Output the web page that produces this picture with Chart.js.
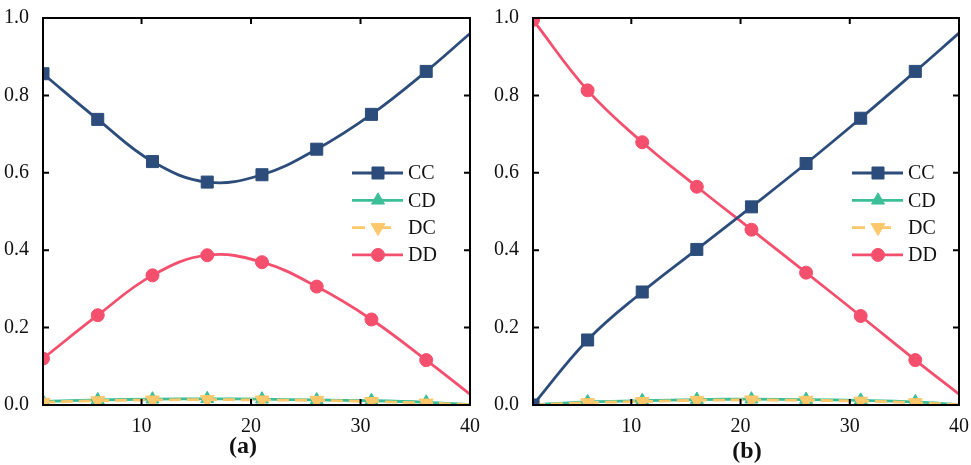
<!DOCTYPE html>
<html><head><meta charset="utf-8">
<script src="https://cdn.jsdelivr.net/npm/chart.js@4.4.1/dist/chart.umd.min.js"></script>
<style>
html,body{margin:0;padding:0;background:#fff;overflow:hidden}
#wrap{position:relative;width:971px;height:465px}
.pane{position:absolute;top:0;height:465px}
</style></head><body>
<div id="wrap">
<div class="pane" style="left:0;width:486px"><canvas id="chartA" width="486" height="465"></canvas></div>
<div class="pane" style="left:486px;width:485px"><canvas id="chartB" width="485" height="465"></canvas></div>
</div>
<script>
// sampled x positions (markers every 5 steps, line runs to 40)
const xValues=[1,6,11,16,21,26,31,36,40];
const xTicks=[10,20,30,40];
const yTicks=[0,0.2,0.4,0.6,0.8,1.0];
const seriesNames=['CC','CD','DC','DD'];

// panel (a)
const ccA=[0.856,0.738,0.629,0.576,0.595,0.661,0.751,0.862,0.960];
const cdA=[0.009,0.013,0.015,0.016,0.015,0.013,0.011,0.007,0.001];
const dcA=[0.007,0.011,0.013,0.014,0.013,0.012,0.009,0.005,0.001];
const ddA=[0.120,0.232,0.335,0.387,0.369,0.306,0.221,0.116,0.028];
// panel (b)
const ccB=[0.000,0.168,0.292,0.402,0.512,0.624,0.741,0.862,0.961];
const cdB=[0.000,0.008,0.011,0.014,0.015,0.014,0.012,0.008,0.001];
const dcB=[0.000,0.006,0.009,0.012,0.013,0.012,0.010,0.006,0.001];
const ddB=[0.995,0.813,0.679,0.564,0.453,0.342,0.230,0.116,0.028];

const COLORS={CC:'#2c4d7b',CD:'#3cbf99',DC:'#fcc86b',DD:'#f4506e'};
const STYLE={CC:{ps:'rect',r:8.5,rot:0,dash:[]},CD:{ps:'triangle',r:7.5,rot:0,dash:[]},DC:{ps:'triangle',r:8,rot:180,dash:[12,6]},DD:{ps:'circle',r:6.5,rot:0,dash:[]}};
const ORDER={CC:0,DD:1,DC:2,CD:3};
const FONT="'Liberation Serif','Times New Roman',serif";

function mkDatasets(vals){
  return seriesNames.map((n,i)=>({
    label:n,data:xValues.map((x,j)=>({x,y:vals[i][j]})),
    borderColor:COLORS[n],backgroundColor:COLORS[n],borderWidth:2.8,borderDash:STYLE[n].dash,
    pointStyle:STYLE[n].ps,pointRotation:STYLE[n].rot,
    pointRadius:ctx=>xValues[ctx.dataIndex]%5===1?STYLE[n].r:0,
    pointBorderWidth:1,tension:0.4,clip:0,order:ORDER[n]
  }));
}

const framePlugin={id:'frame',afterDraw(chart){
  const {ctx,chartArea:a,scales:{x,y}}=chart;
  const o=chart.options.plugins.frame;
  ctx.save();
  ctx.strokeStyle='#000';ctx.lineWidth=2;
  ctx.strokeRect(a.left,a.top,a.right-a.left,a.bottom-a.top);
  ctx.beginPath();
  xTicks.forEach(v=>{const p=x.getPixelForValue(v);ctx.moveTo(p,a.bottom);ctx.lineTo(p,a.bottom-6);ctx.moveTo(p,a.top);ctx.lineTo(p,a.top+6);});
  yTicks.forEach(v=>{const p=y.getPixelForValue(v);ctx.moveTo(a.left,p);ctx.lineTo(a.left+6,p);ctx.moveTo(a.right,p);ctx.lineTo(a.right-6,p);});
  ctx.stroke();
  // legend
  ctx.font='20px '+FONT;ctx.textBaseline='middle';ctx.textAlign='left';
  seriesNames.forEach((n,i)=>{
    const ly=a.top+155+i*27.3, lx=o.legendX;
    ctx.strokeStyle=COLORS[n];ctx.fillStyle=COLORS[n];ctx.lineWidth=2.8;ctx.setLineDash(STYLE[n].dash.length?[13,13]:[]);
    ctx.beginPath();ctx.moveTo(lx,ly);ctx.lineTo(lx+51,ly);ctx.stroke();
    ctx.setLineDash([]);ctx.lineWidth=1;
    Chart.helpers.drawPoint(ctx,{pointStyle:STYLE[n].ps,rotation:STYLE[n].rot,radius:STYLE[n].r,borderWidth:1},lx+26,ly);
    ctx.fillStyle='#111';ctx.fillText(n,lx+56,ly+1);
  });
  ctx.font='bold 24px '+FONT;ctx.textAlign='center';ctx.fillStyle='#111';
  ctx.fillText(o.sub,o.subX,o.subY);
  ctx.restore();
}};

function makeChart(id,vals,p){
  const tickFont={family:FONT,size:20};
  return new Chart(document.getElementById(id),{
    type:'line',
    data:{datasets:mkDatasets(vals)},
    options:{
      responsive:false,animation:false,
      layout:{padding:{top:18,left:0,right:0,bottom:0}},
      plugins:{legend:{display:false},tooltip:{enabled:false},frame:p},
      scales:{
        x:{type:'linear',min:1,max:40,position:'bottom',
          afterBuildTicks:s=>{s.ticks=xTicks.map(v=>({value:v}));},
          afterFit:s=>{s.height=60;},
          grid:{display:false},border:{display:false},
          ticks:{font:tickFont,color:'#111',padding:2,maxRotation:0,autoSkip:false}},
        y:{type:'linear',min:0,max:1,position:'left',
          afterBuildTicks:s=>{s.ticks=yTicks.map(v=>({value:v}));},
          afterFit:s=>{s.width=p.left;},
          grid:{display:false},border:{display:false},
          ticks:{font:tickFont,color:'#111',padding:6,callback:v=>v.toFixed(1)}},
        yR:{type:'linear',min:0,max:1,position:'right',
          afterFit:s=>{s.width=p.right;},
          grid:{display:false},border:{display:false},ticks:{display:false}}
      }
    },
    plugins:[framePlugin]
  });
}

makeChart('chartA',[ccA,cdA,dcA,ddA],{left:43,right:16,legendX:352,sub:'(a)',subX:243,subY:447});
makeChart('chartB',[ccB,cdB,dcB,ddB],{left:47,right:10,legendX:366,sub:'(b)',subX:261,subY:452});
</script>
</body></html>
